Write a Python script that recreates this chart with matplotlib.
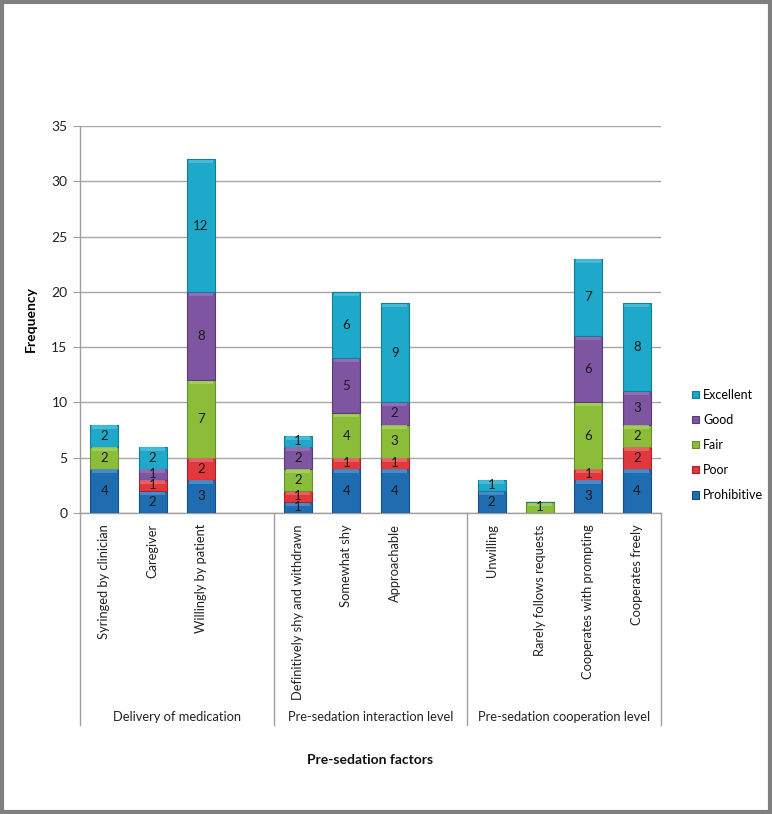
import matplotlib
matplotlib.use("Agg")
import matplotlib.pyplot as plt
from matplotlib.patches import Rectangle
from matplotlib.lines import Line2D
import numpy as np

plt.rcParams['font.family'] = ['Lato', 'DejaVu Sans']

categories = ["Syringed by clinician", "Caregiver", "Willingly by patient",
              "Definitively shy and withdrawn", "Somewhat shy", "Approachable",
              "Unwilling", "Rarely follows requests", "Cooperates with prompting",
              "Cooperates freely"]
groups = ["Delivery of medication", "Pre-sedation interaction level",
          "Pre-sedation cooperation level"]
group_sizes = [3, 3, 4]
series_names = ["Prohibitive", "Poor", "Fair", "Good", "Excellent"]
prohibitive = [4, 2, 3, 1, 4, 4, 2, 0, 3, 4]
poor        = [0, 1, 2, 1, 1, 1, 0, 0, 1, 2]
fair        = [2, 0, 7, 2, 4, 3, 0, 1, 6, 2]
good        = [0, 1, 8, 2, 5, 2, 0, 0, 6, 3]
excellent   = [2, 2, 12, 1, 6, 9, 1, 0, 7, 8]
series = [prohibitive, poor, fair, good, excellent]
colors = ["#1F6CB0", "#E0383C", "#8CBD3A", "#7D55A0", "#1EA8C9"]
edges = ["#164F85", "#A82327", "#64902A", "#5A3A78", "#137C96"]
highlights = ["#4E93D2", "#EC6A6D", "#A9D25E", "#9775B8", "#4FC0DC"]

# slot positions with blank slot between groups
pos = []
slot = 0
for gi, n in enumerate(group_sizes):
    for k in range(n):
        pos.append(slot)
        slot += 1
    if gi < len(group_sizes) - 1:
        slot += 1
pos = np.array(pos, dtype=float)
nslots = slot

fig = plt.figure(figsize=(7.72, 8.14), dpi=100)
ax = fig.add_axes([80/772, 1-513/814, (661-80)/772, (513-126)/814])

width = 0.58
bottom = np.zeros(len(categories))
for vals, name, c, ec, hc in zip(series, series_names, colors, edges, highlights):
    vals = np.array(vals, dtype=float)
    ax.bar(pos, vals, width, bottom=bottom, color=c, edgecolor=ec, linewidth=0.8,
           label=name, zorder=3)
    # subtle top highlight band
    hb = np.minimum(vals, 0.3)
    ax.bar(pos, np.where(vals > 0, hb, 0), width*0.88, bottom=bottom + vals - hb - 0.06,
           color=hc, linewidth=0, zorder=4, alpha=0.8)
    for x, v, b in zip(pos, vals, bottom):
        if v > 0:
            ax.text(x, b + v/2, f"{int(v)}", ha="center", va="center",
                    fontsize=9.5, color="#1a1a1a", zorder=5)
    bottom += vals

ax.set_xlim(-0.5, nslots - 0.5)
ax.set_ylim(0, 35)
ax.set_yticks(np.arange(0, 36, 5))
ax.yaxis.grid(True, color="#A6A6A6", linewidth=1.0, zorder=0)
ax.set_axisbelow(True)
for s in ["top", "right"]:
    ax.spines[s].set_visible(False)
for s in ["left", "bottom"]:
    ax.spines[s].set_color("#A0A0A0")
    ax.spines[s].set_linewidth(1.0)
ax.tick_params(axis="y", direction="out", length=5, color="#A0A0A0",
               labelsize=10, labelcolor="#222222", pad=4)
ax.set_xticks(pos)
ax.set_xticklabels(categories, rotation=90, fontsize=9.3, color="#222222", va="top")
ax.tick_params(axis="x", length=0, pad=8)

# group dividers and labels
trans = ax.get_xaxis_transform()
depth = -(725-513)/(513-126)
bounds = [-0.5]
s = -0.5
for gi, n in enumerate(group_sizes):
    s += n + (1 if gi < len(group_sizes)-1 else 0)
    bounds.append(s)
for b in bounds:
    ax.add_line(Line2D([b, b], [0, depth], transform=trans, color="#A0A0A0",
                       linewidth=1.0, clip_on=False))
label_y = -(717-513)/(513-126)
for gi, g in enumerate(groups):
    ax.text((bounds[gi]+bounds[gi+1])/2, label_y, g, transform=trans,
            ha="center", va="center", fontsize=9.3, color="#222222")

ax.set_ylabel("Frequency", fontsize=10, fontweight="bold", labelpad=10)
fig.text(370/772, 1-760/814, "Pre-sedation factors", ha="center", va="center",
         fontsize=10, fontweight="bold", color="#111111")

handles, labels = ax.get_legend_handles_labels()
leg = fig.legend(handles[::-1], labels[::-1], loc="upper left",
                 bbox_to_anchor=(683/772, 1-380/814), frameon=False,
                 fontsize=9, handlelength=0.55, handleheight=0.55,
                 handletextpad=0.35, labelspacing=1.05, borderpad=0.2)

fig.patches.append(Rectangle((0.002, 0.002), 0.996, 0.996, transform=fig.transFigure,
                             fill=False, edgecolor="#7F7F7F", linewidth=3))

fig.savefig("out.png", dpi=100)
